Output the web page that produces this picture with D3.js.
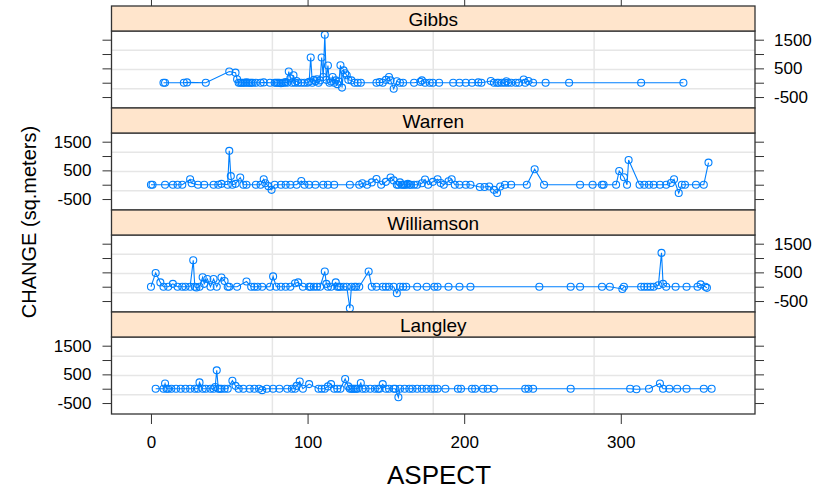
<!DOCTYPE html>
<html>
  <head>
    <meta charset="utf-8">
    <title>CHANGE by ASPECT</title>
    <style>
      body { margin: 0; background: #fff; }
      svg text { font-family: "Liberation Sans", Arial, sans-serif; fill: #000; }
    </style>
  </head>
  <body>
    <script src="https://d3js.org/d3.v7.min.js"></script>
    <svg id="chart" width="821" height="491"></svg>
    <script>
      // panel names, top to bottom
      const sites = ['Gibbs', 'Warren', 'Williamson', 'Langley']

      // [aspect, change]
      const gibbs = [
        [8,0],[9,0],[21,0],[23,10],[35,0],[50,390],[54,350],[55,120],[56,0],[57,0],[58,0],[59,0],[60,0],
        [61,10],[62,0],[63,0],[64,0],[65,0],[67,0],[70,0],[72,10],[76,0],[79,0],[80,0],[81,0],[82,0],
        [83,-20],[84,0],[85,0],[86,20],[87,0],[88,390],[89,150],[90,0],[91,260],[92,0],[93,60],[94,0],
        [96,0],[98,0],[100,0],[101,30],[102,880],[103,0],[104,100],[105,50],[106,120],[107,0],[108,80],
        [109,880],[110,200],[111,1670],[112,100],[113,600],[114,0],[115,40],[116,200],[117,0],[118,80],
        [119,-50],[120,40],[121,610],[122,-170],[123,430],[124,330],[125,260],[126,100],[128,80],[130,0],
        [132,0],[134,0],[144,0],[146,20],[148,0],[150,100],[152,200],[153,80],[155,-210],[157,50],[159,0],
        [161,0],[168,0],[172,30],[173,80],[175,0],[178,0],[180,0],[184,0],[193,0],[197,0],[201,0],[205,0],
        [209,10],[211,0],[217,60],[219,0],[221,0],[222,0],[224,0],[226,0],[227,50],[228,0],[230,0],[233,0],
        [235,0],[238,110],[239,0],[241,60],[244,0],[252,0],[267,0],[313,0],[340,0]
      ]
      const warren = [
        [0,0],[1,0],[9,0],[14,0],[17,0],[20,0],[25,190],[26,50],[30,0],[34,0],[40,0],[43,0],[45,30],
        [49,0],[50,1180],[51,300],[52,0],[54,30],[57,250],[59,0],[61,0],[67,0],[70,0],[72,190],[73,50],
        [75,-50],[77,-180],[79,0],[83,0],[86,0],[89,0],[93,0],[96,130],[98,0],[101,0],[105,0],[110,0],
        [113,0],[117,0],[127,0],[133,0],[135,50],[138,0],[141,80],[144,200],[147,0],[150,100],[153,250],
        [155,150],[157,0],[158,0],[159,80],[160,0],[161,0],[162,0],[163,0],[164,30],[165,0],[166,0],
        [168,0],[170,0],[173,50],[175,180],[177,0],[180,100],[183,190],[185,60],[187,0],[190,120],[192,190],
        [194,0],[197,0],[201,0],[204,0],[210,-80],[213,-80],[216,-60],[219,-180],[221,-290],[223,-60],
        [226,0],[230,0],[240,0],[245,540],[251,0],[274,0],[282,0],[288,0],[289,0],[297,0],[299,480],
        [302,260],[304,0],[305,860],[312,0],[315,0],[318,0],[321,0],[325,0],[329,0],[332,60],[334,190],
        [337,-290],[339,0],[341,0],[348,0],[353,0],[356,770]
      ]
      const williamson = [
        [0,0],[3,480],[6,150],[8,0],[11,0],[14,100],[17,0],[20,0],[22,0],[25,0],[27,920],[28,0],[29,-30],
        [31,0],[33,330],[34,100],[36,270],[38,0],[40,270],[42,0],[45,320],[47,200],[49,0],[50,0],[55,0],
        [61,180],[64,0],[66,0],[68,0],[71,0],[76,0],[78,360],[80,0],[83,0],[86,0],[89,0],[92,120],[94,150],
        [97,0],[101,0],[102,0],[104,0],[106,0],[108,0],[111,530],[112,100],[113,0],[115,0],[118,150],
        [119,0],[120,0],[121,0],[123,0],[125,0],[127,-750],[128,0],[130,0],[131,0],[133,0],[139,530],
        [141,0],[144,0],[148,0],[150,0],[152,0],[155,0],[157,-230],[159,0],[161,0],[163,0],[170,0],[176,0],
        [181,0],[183,0],[190,0],[197,0],[204,0],[248,0],[268,0],[274,0],[288,0],[293,0],[301,-80],[302,0],
        [313,0],[315,0],[317,0],[319,0],[321,0],[324,50],[326,1180],[327,100],[329,0],[335,0],[342,0],
        [349,0],[351,80],[354,0],[355,-40]
      ]
      const langley = [
        [3,0],[8,0],[9,180],[10,0],[11,0],[13,0],[16,0],[19,0],[22,0],[25,0],[28,0],[30,0],[31,220],[33,0],
        [35,0],[38,0],[40,0],[41,60],[42,640],[43,0],[44,0],[45,0],[47,0],[49,0],[52,280],[54,100],[56,0],
        [59,0],[63,0],[66,0],[69,0],[71,-50],[74,0],[78,0],[82,0],[87,0],[90,0],[92,0],[93,100],[95,250],
        [97,0],[101,160],[107,0],[109,0],[111,0],[113,80],[115,160],[117,0],[119,0],[121,0],[124,340],
        [126,80],[127,0],[128,0],[129,0],[130,0],[131,0],[132,0],[134,200],[135,0],[137,0],[140,0],[143,0],
        [145,0],[146,0],[148,160],[150,0],[152,0],[155,0],[156,0],[158,-300],[159,0],[162,0],[165,0],
        [167,0],[170,0],[173,0],[176,0],[179,0],[181,0],[183,0],[188,0],[196,0],[198,0],[205,0],[207,0],
        [212,0],[215,0],[219,0],[239,0],[241,0],[244,0],[268,0],[306,0],[310,-20],[318,0],[325,180],[327,0],
        [331,0],[336,0],[342,0],[353,0],[358,0]
      ]
      const panelData = [gibbs, warren, williamson, langley]

      const xTicks = [0, 100, 200, 300]
      const yTicks = [-500, 0, 500, 1000, 1500]
      const yTickLabels = [-500, 500, 1500]

      const svg = d3.select('#chart')
      const left = 111.5, right = 755
      const stripH = 25, panelH = 77, top0 = 6

      const x = d3.scaleLinear().domain([-25.2, 385.7]).range([left, right])
      const y = d3.scaleLinear().domain([-882, 1803]).range([panelH, 0])

      const fmt = d => yTickLabels.includes(d) ? d : ''

      sites.forEach((site, i) => {
        const stripTop = top0 + i * (stripH + panelH)
        const pTop = stripTop + stripH
        const g = svg.append('g').attr('transform', `translate(0,${pTop})`)

        // grid: 3 evenly spaced lines each way
        const w = right - left
        ;[1, 2, 3].forEach(k => {
          g.append('line')
            .attr('x1', left + w * k / 4).attr('x2', left + w * k / 4)
            .attr('y1', 0).attr('y2', panelH)
            .attr('stroke', '#e6e6e6').attr('stroke-width', 1.5)
          g.append('line')
            .attr('x1', left).attr('x2', right)
            .attr('y1', panelH * k / 4).attr('y2', panelH * k / 4)
            .attr('stroke', '#e6e6e6').attr('stroke-width', 1.5)
        })

        const pts = panelData[i]
        g.append('path')
          .datum(pts)
          .attr('fill', 'none')
          .attr('stroke', '#0080ff')
          .attr('stroke-width', 1.1)
          .attr('d', d3.line().x(d => x(d[0])).y(d => y(d[1])))
        g.selectAll('circle')
          .data(pts)
          .join('circle')
            .attr('cx', d => x(d[0]))
            .attr('cy', d => y(d[1]))
            .attr('r', 3.5)
            .attr('fill', 'none')
            .attr('stroke', '#0080ff')
            .attr('stroke-width', 1.1)

        // y axes, labels alternate right / left
        const labelRight = i % 2 === 0
        const axL = g.append('g').attr('transform', `translate(${left},0)`)
          .call(d3.axisLeft(y).tickValues(yTicks).tickSize(9).tickPadding(11)
            .tickFormat(labelRight ? () => '' : fmt))
        const axR = g.append('g').attr('transform', `translate(${right},0)`)
          .call(d3.axisRight(y).tickValues(yTicks).tickSize(9).tickPadding(10)
            .tickFormat(labelRight ? fmt : () => ''))
        ;[axL, axR].forEach(a => {
          a.select('.domain').remove()
          a.selectAll('line').attr('stroke', '#333')
          a.selectAll('text').attr('font-size', 17).attr('fill', '#000')
            .style('font-family', '"Liberation Sans", Arial, sans-serif')
        })

        // strip
        svg.append('rect')
          .attr('x', left).attr('y', stripTop).attr('width', w).attr('height', stripH)
          .attr('fill', '#ffe5cc').attr('stroke', '#333').attr('stroke-width', 1.3)
        svg.append('text')
          .attr('x', (left + right) / 2).attr('y', stripTop + stripH - 5.5)
          .attr('text-anchor', 'middle').attr('font-size', 19)
          .text(site)

        // panel frame
        g.append('rect')
          .attr('x', left).attr('y', 0).attr('width', w).attr('height', panelH)
          .attr('fill', 'none').attr('stroke', '#333').attr('stroke-width', 1.3)
      })

      // x axes: ticks on top, ticks and labels at bottom
      const bottom = top0 + 4 * (stripH + panelH)
      const axT = svg.append('g').attr('transform', `translate(0,${top0})`)
        .call(d3.axisTop(x).tickValues(xTicks).tickSize(9).tickFormat(() => ''))
      const axB = svg.append('g').attr('transform', `translate(0,${bottom})`)
        .call(d3.axisBottom(x).tickValues(xTicks).tickSize(10).tickPadding(12))
      ;[axT, axB].forEach(a => {
        a.select('.domain').remove()
        a.selectAll('line').attr('stroke', '#333')
        a.selectAll('text').attr('font-size', 17).attr('fill', '#000')
          .style('font-family', '"Liberation Sans", Arial, sans-serif')
      })

      svg.append('text')
        .attr('x', 439).attr('y', 484)
        .attr('text-anchor', 'middle').attr('font-size', 26)
        .text('ASPECT')

      svg.append('text')
        .attr('transform', 'translate(36,222) rotate(-90)')
        .attr('text-anchor', 'middle').attr('font-size', 20)
        .text('CHANGE (sq.meters)')
    </script>
  </body>
</html>
